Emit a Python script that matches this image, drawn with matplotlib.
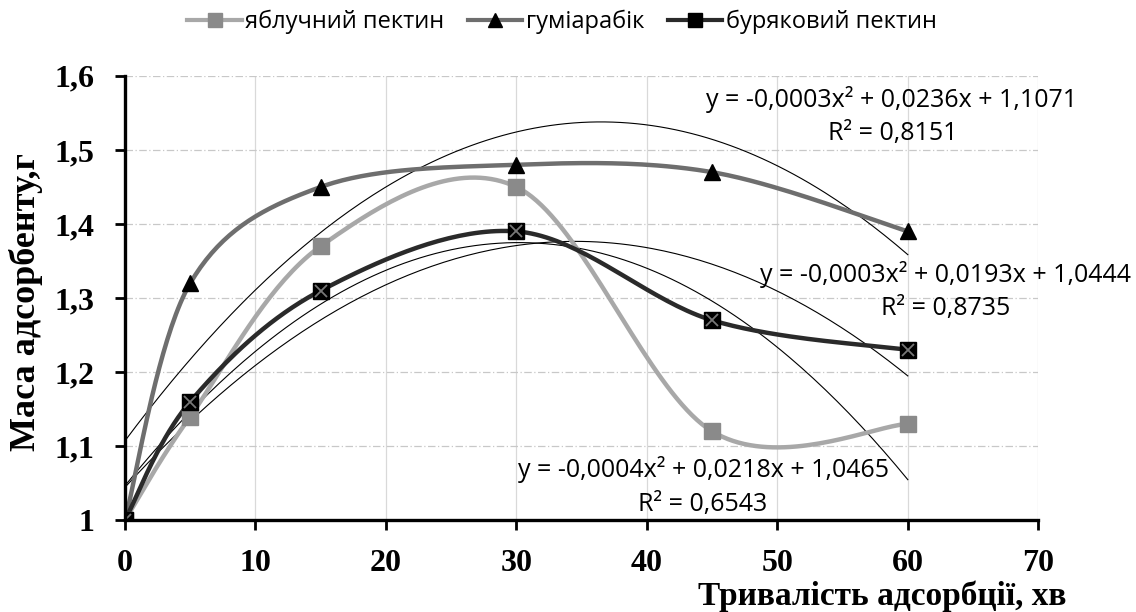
import numpy as np
import matplotlib
matplotlib.use("Agg")
import matplotlib.pyplot as plt
from matplotlib.ticker import FuncFormatter, MultipleLocator
from matplotlib.lines import Line2D

# ---- data ----
time_min = [0, 5, 15, 30, 45, 60]
apple_pectin = [1.00, 1.14, 1.37, 1.45, 1.12, 1.13]
gum_arabic = [1.00, 1.32, 1.45, 1.48, 1.47, 1.39]
beet_pectin = [1.00, 1.16, 1.31, 1.39, 1.27, 1.23]
series_names = ["яблучний пектин", "гуміарабік", "буряковий пектин"]
trend_labels = {
    "gum": ("y = -0,0003x² + 0,0236x + 1,1071", "R² = 0,8151"),
    "beet": ("y = -0,0003x² + 0,0193x + 1,0444", "R² = 0,8735"),
    "apple": ("y = -0,0004x² + 0,0218x + 1,0465", "R² = 0,6543"),
}
x_label = "Тривалість адсорбції, хв"
y_label = "Маса адсорбенту,г"


def smooth(xs, ys, n=40):
    """Excel-like smoothing: uniform Catmull-Rom as cubic Bezier."""
    P = np.column_stack([xs, ys]).astype(float)
    P = np.vstack([P[0], P, P[-1]])
    out = []
    t = np.linspace(0, 1, n)[:, None]
    for i in range(1, len(P) - 2):
        p0, p1, p2, p3 = P[i - 1], P[i], P[i + 1], P[i + 2]
        c1 = p1 + (p2 - p0) / 6.0
        c2 = p2 - (p3 - p1) / 6.0
        seg = ((1 - t) ** 3) * p1 + 3 * ((1 - t) ** 2) * t * c1 + 3 * (1 - t) * t ** 2 * c2 + t ** 3 * p2
        out.append(seg if i == 1 else seg[1:])
    a = np.vstack(out)
    return a[:, 0], a[:, 1]


fig = plt.figure(figsize=(11.36, 6.12), dpi=100)
ax = fig.add_axes([0.110, 0.150, 0.804, 0.726])

ax.set_xlim(0, 70)
ax.set_ylim(1.0, 1.6)
ax.xaxis.set_major_locator(MultipleLocator(10))
ax.yaxis.set_major_locator(MultipleLocator(0.1))

# grid
for xv in range(10, 71, 10):
    ax.axvline(xv, color="#d9d9d9", lw=0.9, zorder=0)
for yv in np.arange(1.1, 1.61, 0.1):
    ax.axhline(yv, color="#c8c8c8", lw=0.9, ls=(0, (6, 2, 1, 2)), zorder=0)

xs = np.array(time_min, dtype=float)

# trendlines (polynomial order 2)
xt = np.linspace(0, 60, 200)
for ys in (apple_pectin, gum_arabic, beet_pectin):
    c = np.polyfit(xs, ys, 2)
    ax.plot(xt, np.polyval(c, xt), color="black", lw=0.8, zorder=2)

# series
sx, sy = smooth(time_min, apple_pectin)
ax.plot(sx, sy, color="#a8a8a8", lw=3.2, zorder=3, solid_capstyle="round")
sx, sy = smooth(time_min, gum_arabic)
ax.plot(sx, sy, color="#6e6e6e", lw=3.2, zorder=3, solid_capstyle="round")
sx, sy = smooth(time_min, beet_pectin)
ax.plot(sx, sy, color="#2a2a2a", lw=3.2, zorder=3, solid_capstyle="round")

ax.plot(time_min, apple_pectin, ls="none", marker="s", ms=12, mfc="#8a8a8a", mec="#8a8a8a", zorder=4)
ax.plot(time_min, gum_arabic, ls="none", marker="^", ms=12, mfc="black", mec="black", zorder=4)
ax.plot(time_min, beet_pectin, ls="none", marker="s", ms=12, mfc="black", mec="black", zorder=5)
ax.plot(time_min, beet_pectin, ls="none", marker="x", ms=9, mec="#777777", mew=1.3, zorder=6)

# spines and ticks
for s in ("top", "right"):
    ax.spines[s].set_visible(False)
for s in ("left", "bottom"):
    ax.spines[s].set_linewidth(2.4)
    ax.spines[s].set_zorder(7)
ax.tick_params(axis="both", direction="out", length=7, width=2)
ax.tick_params(axis="x", pad=14)
ax.tick_params(axis="y", pad=15)

fmt = FuncFormatter(lambda v, p: ("%g" % round(v, 2)).replace(".", ","))
ax.xaxis.set_major_formatter(fmt)
ax.yaxis.set_major_formatter(fmt)
serif = ["Liberation Serif", "DejaVu Serif"]
for lab in ax.get_xticklabels() + ax.get_yticklabels():
    lab.set_fontfamily(serif)
    lab.set_fontweight("bold")
    lab.set_fontsize(23)

fig.text(26 / 1136, 1 - 302 / 612, y_label, family=serif, fontweight="bold", fontsize=26,
         rotation=90, ha="center", va="center")
fig.text(1066 / 1136, 1 - 605 / 612, x_label, family=serif, fontweight="bold", fontsize=24,
         ha="right", va="baseline")

# trendline labels
sans = ["Open Sans", "DejaVu Sans"]
tfs = 18


def ftxt(px, py, s):
    fig.text(px / 1136, 1 - py / 612, s, family=sans, fontsize=tfs, ha="center", va="baseline", zorder=10)


ftxt(892, 107, trend_labels["gum"][0])
ftxt(893, 140, trend_labels["gum"][1])
ftxt(946, 282, trend_labels["beet"][0])
ftxt(946, 315, trend_labels["beet"][1])
ftxt(703, 477, trend_labels["apple"][0])
ftxt(703, 511, trend_labels["apple"][1])

# legend
handles = [
    Line2D([], [], color="#a8a8a8", lw=3, marker="s", ms=10, mfc="#8a8a8a", mec="#8a8a8a"),
    Line2D([], [], color="#6e6e6e", lw=3, marker="^", ms=10, mfc="black", mec="black"),
    Line2D([], [], color="#2a2a2a", lw=3, marker="s", ms=10, mfc="black", mec="black"),
]
leg = fig.legend(handles, series_names, loc="center", bbox_to_anchor=(562 / 1136, 1 - 22 / 612),
                 ncol=3, frameon=False, prop={"family": sans, "size": 17},
                 handlelength=2.3, handletextpad=0.15, columnspacing=1.0)

fig.savefig("out.png", dpi=100)
